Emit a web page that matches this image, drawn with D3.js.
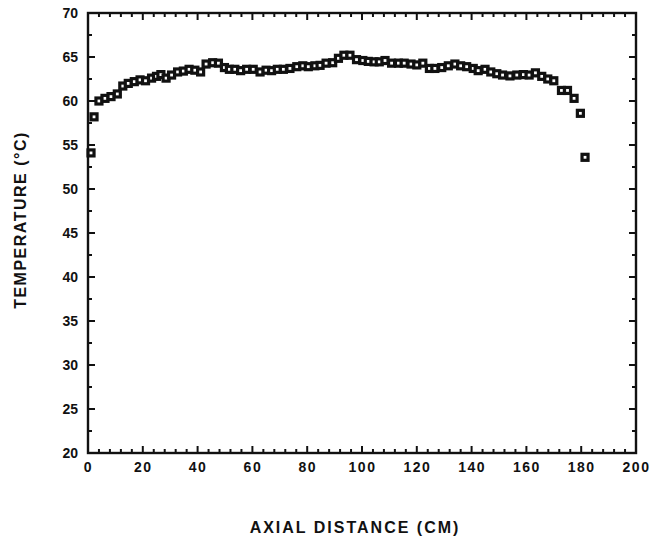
<!DOCTYPE html>
<html>
<head>
<meta charset="utf-8">
<script src="https://cdn.jsdelivr.net/npm/d3@7"></script>
<style>
  body { margin: 0; background: #fff; }
  text { font-family: "Liberation Sans", Arial, sans-serif; font-weight: bold; fill: #111; }
</style>
</head>
<body>
<div id="chart"></div>
<script>
// axial position (cm)
var distance = [1.1, 2.2, 4.0, 6.2, 8.4, 10.7, 12.7, 14.7, 16.9, 19.0, 21.0, 23.2, 25.0, 26.6, 28.5,
  30.5, 32.7, 34.8, 36.9, 39.0, 41.1, 43.1, 45.5, 47.6, 49.8, 51.6, 53.6, 55.7, 57.9,
  60.3, 62.8, 65.0, 67.0, 69.1, 71.3, 73.7, 76.2, 78.4, 80.4, 82.8, 84.7, 86.9, 89.3,
  91.4, 93.4, 95.6, 98.0, 100.3, 102.3, 104.4, 106.3, 108.4, 110.8, 113.3, 115.4, 117.9,
  120.0, 122.2, 124.6, 126.6, 129.1, 131.5, 133.9, 136.0, 138.2, 140.6, 142.4, 144.9,
  147.0, 149.2, 151.3, 154.0, 156.5, 158.9, 161.0, 163.3, 165.6, 167.8, 170.0, 172.8,
  175.0, 177.4, 179.7, 181.4]

// temperature (C)
var temperature = [54.1, 58.2, 60.0, 60.3, 60.5, 60.8, 61.7, 62.0, 62.2, 62.4, 62.3, 62.6, 62.8, 63.0, 62.6,
  62.95, 63.3, 63.4, 63.6, 63.5, 63.3, 64.2, 64.35, 64.3, 63.8, 63.6, 63.6, 63.45, 63.6,
  63.6, 63.3, 63.5, 63.45, 63.6, 63.6, 63.7, 63.9, 64.0, 63.9, 64.0, 64.05, 64.3, 64.35,
  64.85, 65.2, 65.2, 64.7, 64.6, 64.5, 64.45, 64.45, 64.6, 64.3, 64.3, 64.3, 64.2,
  64.1, 64.3, 63.7, 63.7, 63.8, 64.0, 64.2, 64.0, 63.9, 63.7, 63.45, 63.6,
  63.3, 63.1, 62.95, 62.85, 62.95, 63.0, 62.95, 63.2, 62.8, 62.5, 62.3, 61.2,
  61.2, 60.3, 58.6, 53.6]

var xTicks = [0, 20, 40, 60, 80, 100, 120, 140, 160, 180, 200]
var yTicks = [20, 25, 30, 35, 40, 45, 50, 55, 60, 65, 70]

var width = 652
var height = 546
var margin = {top: 13, right: 16, bottom: 93, left: 88}
var w = width - margin.left - margin.right
var h = height - margin.top - margin.bottom

var svg = d3.select("#chart")
    .append("svg")
    .attr("width", width)
    .attr("height", height)

var g = svg.append("g")
    .attr("transform", "translate(" + margin.left + "," + margin.top + ")")

var xScale = d3.scaleLinear().domain([0, 200]).range([0, w])
var yScale = d3.scaleLinear().domain([20, 70]).range([h, 0])

// minor ticks: every 4 cm and every 2.5 degrees
var xMinor = d3.range(0, 201, 4).filter(function(d) { return d % 20 != 0 })
var yMinor = d3.range(22.5, 70, 5)

// tick labels through the axes
g.append("g")
    .attr("transform", "translate(0," + h + ")")
    .call(d3.axisBottom(xScale).tickValues(xTicks).tickSize(0).tickPadding(11))
    .call(function(s) { s.select(".domain").remove() })
  .selectAll("text")
    .style("font-size", "14px")
    .style("letter-spacing", "1.5px")
    .attr("dy", "0.6em")

g.append("g")
    .call(d3.axisLeft(yScale).tickValues(yTicks).tickSize(0).tickPadding(10))
    .call(function(s) { s.select(".domain").remove() })
  .selectAll("text")
    .style("font-size", "14px")

// inward ticks on all four sides
function xTickLines(values, len) {
  var t = g.append("g").attr("stroke", "#111").attr("stroke-width", 2)
  t.selectAll(".b").data(values).enter().append("line")
      .attr("x1", function(d) { return xScale(d) })
      .attr("x2", function(d) { return xScale(d) })
      .attr("y1", h).attr("y2", h - len)
  t.selectAll(".t").data(values).enter().append("line")
      .attr("x1", function(d) { return xScale(d) })
      .attr("x2", function(d) { return xScale(d) })
      .attr("y1", 0).attr("y2", len)
}
function yTickLines(values, len) {
  var t = g.append("g").attr("stroke", "#111").attr("stroke-width", 2)
  t.selectAll(".l").data(values).enter().append("line")
      .attr("y1", function(d) { return yScale(d) })
      .attr("y2", function(d) { return yScale(d) })
      .attr("x1", 0).attr("x2", len)
  t.selectAll(".r").data(values).enter().append("line")
      .attr("y1", function(d) { return yScale(d) })
      .attr("y2", function(d) { return yScale(d) })
      .attr("x1", w).attr("x2", w - len)
}
xTickLines(xTicks, 7)
xTickLines(xMinor, 4)
yTickLines(yTicks, 7)
yTickLines(yMinor, 4)

// frame
g.append("rect")
    .attr("width", w)
    .attr("height", h)
    .attr("fill", "none")
    .attr("stroke", "#111")
    .attr("stroke-width", 2.4)

// square markers
var size = 6
g.append("g").selectAll("rect")
    .data(distance)
    .enter()
    .append("rect")
    .attr("x", function(d) { return xScale(d) - size / 2 })
    .attr("y", function(d, i) { return yScale(temperature[i]) - size / 2 })
    .attr("width", size)
    .attr("height", size)
    .attr("fill", "#fff")
    .attr("stroke", "#111")
    .attr("stroke-width", 3.2)

// axis titles
svg.append("text")
    .attr("x", 355)
    .attr("y", 533)
    .attr("text-anchor", "middle")
    .style("font-size", "16px")
    .style("letter-spacing", "2px")
    .text("AXIAL DISTANCE (CM)")

svg.append("text")
    .attr("transform", "translate(26,220) rotate(-90)")
    .attr("text-anchor", "middle")
    .style("font-size", "16px")
    .style("letter-spacing", "1.5px")
    .text("TEMPERATURE (°C)")
</script>
</body>
</html>
